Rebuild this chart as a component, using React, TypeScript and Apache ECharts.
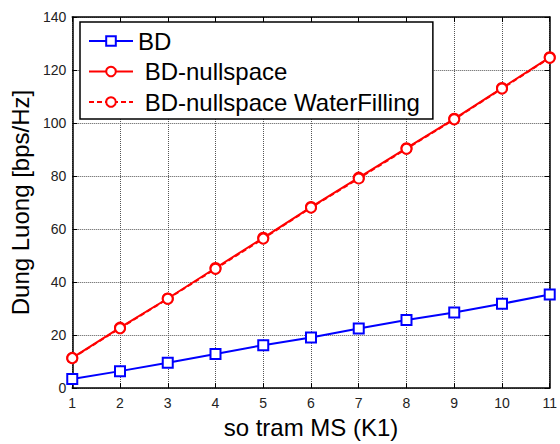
import React, { useEffect, useRef } from "react";
import * as echarts from "echarts";

const xValues = [1, 2, 3, 4, 5, 6, 7, 8, 9, 10, 11];
const bdValues = [3.4, 6.4, 9.6, 12.9, 16.2, 19.1, 22.5, 25.7, 28.5, 31.8, 35.3];
const nullspaceValues = [11.4, 22.8, 33.8, 45.3, 56.7, 68.3, 79.4, 90.5, 101.6, 113.2, 124.8];
const waterFillingValues = [11.3, 22.6, 33.7, 45.0, 56.4, 68.1, 79.1, 90.3, 101.4, 113.0, 124.6];
const seriesNames = ["BD", " BD-nullspace", " BD-nullspace WaterFilling"];

const FONT = "Liberation Sans, Arial, sans-serif";

export default function App() {
  const ref = useRef<HTMLDivElement>(null);
  useEffect(() => {
    if (!ref.current) return;
    const chart = echarts.init(ref.current, undefined, { renderer: "svg" });
    const toPairs = (ys: number[]) => xValues.map((x, i) => [x, ys[i]]);
    const axisCommon = {
      type: "value" as const,
      axisLine: { show: true, onZero: false, lineStyle: { color: "#000", width: 1.5 } },
      axisTick: { show: true, inside: true, length: 5, lineStyle: { color: "#000", width: 1 } },
    };
    chart.setOption({
      animation: false,
      backgroundColor: "#fff",
      textStyle: { fontFamily: FONT },
      grid: { left: 70, right: 8, top: 17, bottom: 47, containLabel: false },
      legend: {
        orient: "vertical",
        left: 80,
        top: 22,
        data: seriesNames,
        backgroundColor: "#fff",
        borderColor: "#000",
        borderWidth: 1.5,
        borderRadius: 0,
        padding: [7, 13, 5, 8],
        itemGap: 6.5,
        itemWidth: 44,
        itemHeight: 12,
        textStyle: { fontSize: 24, color: "#000", fontFamily: FONT },
      },
      xAxis: [
        {
          ...axisCommon,
          position: "bottom",
          min: 1,
          max: 11,
          interval: 1,
          axisLabel: { fontSize: 14, color: "#222", margin: 8, fontFamily: FONT },
          splitLine: { show: true, lineStyle: { color: "#555", type: "dotted", width: 1 } },
          name: "so tram MS (K1)",
          nameLocation: "middle",
          nameGap: 23,
          nameTextStyle: { fontSize: 24, color: "#000", fontFamily: FONT },
        },
        {
          ...axisCommon,
          position: "top",
          min: 1,
          max: 11,
          interval: 1,
          axisLabel: { show: false },
          splitLine: { show: false },
        },
      ],
      yAxis: [
        {
          ...axisCommon,
          position: "left",
          min: 0,
          max: 140,
          interval: 20,
          axisLabel: { fontSize: 14, color: "#222", margin: 6, fontFamily: FONT },
          splitLine: { show: true, lineStyle: { color: "#555", type: "dotted", width: 1 } },
          name: "Dung Luong [bps/Hz]",
          nameLocation: "middle",
          nameGap: 33,
          nameTextStyle: { fontSize: 24, color: "#000", fontFamily: FONT },
        },
        {
          ...axisCommon,
          position: "right",
          min: 0,
          max: 140,
          interval: 20,
          axisLabel: { show: false },
          splitLine: { show: false },
        },
      ],
      series: [
        {
          name: seriesNames[0],
          type: "line",
          data: toPairs(bdValues),
          symbol: "rect",
          symbolSize: 10,
          showAllSymbol: true,
          lineStyle: { color: "#0000ff", width: 2 },
          itemStyle: { color: "#fff", borderColor: "#0000ff", borderWidth: 2 },
          z: 3,
        },
        {
          name: seriesNames[1],
          type: "line",
          data: toPairs(nullspaceValues),
          symbol: "circle",
          symbolSize: 10,
          showAllSymbol: true,
          lineStyle: { color: "#ff0000", width: 2 },
          itemStyle: { color: "#fff", borderColor: "#ff0000", borderWidth: 2 },
          z: 3,
        },
        {
          name: seriesNames[2],
          type: "line",
          data: toPairs(waterFillingValues),
          symbol: "circle",
          symbolSize: 10,
          showAllSymbol: true,
          lineStyle: { color: "#ff0000", width: 2, type: [5, 3] },
          itemStyle: { color: "#fff", borderColor: "#ff0000", borderWidth: 2 },
          z: 4,
        },
      ],
    });
    return () => chart.dispose();
  }, []);
  return <div ref={ref} style={{ width: 560, height: 444, position: "absolute", left: 0, top: 0 }} />;
}
